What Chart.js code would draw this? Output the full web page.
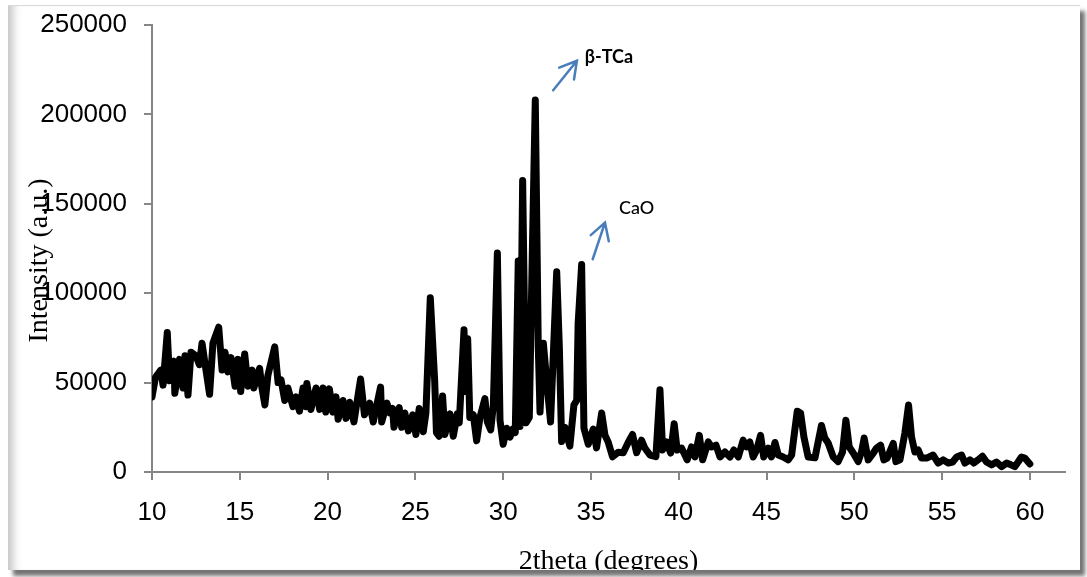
<!DOCTYPE html>
<html>
<head>
<meta charset="utf-8">
<title>XRD pattern</title>
<script src="https://cdn.jsdelivr.net/npm/chart.js@4.4.1/dist/chart.umd.min.js"></script>
<style>
  html, body { margin: 0; padding: 0; background: #fff; }
  #frame {
    position: absolute; left: 8px; top: 5px; width: 1072px; height: 564px;
    overflow: hidden; background: #fff;
    border-top: 1px solid #d9d9d9;
    box-shadow: inset 11px 0 8px -6px #c4c4c4, 5px 6px 4px rgba(70, 70, 70, 0.75);
  }
  #wrap { position: absolute; left: -8px; top: -6px; width: 1087px; height: 577px; }
</style>
</head>
<body>
<div id="frame"><div id="wrap"><canvas id="xrd"></canvas></div></div>
<script>
// 2theta positions (degrees)
const twoTheta = [
  10.0, 10.2, 10.5, 10.63, 10.87, 11.0, 11.25, 11.3, 11.57, 11.76,
  11.88, 12.05, 12.22, 12.5, 12.7, 12.85, 13.0, 13.28, 13.47, 13.65,
  13.8, 13.99, 14.16, 14.33, 14.5, 14.73, 14.9, 15.05, 15.28, 15.47,
  15.7, 15.8, 16.13, 16.26, 16.43, 16.6, 16.99, 17.18, 17.35, 17.56,
  17.74, 18.03, 18.2, 18.4, 18.6, 18.77, 18.82, 19.05, 19.34, 19.55,
  19.74, 19.9, 20.1, 20.3, 20.48, 20.6, 20.88, 21.05, 21.26, 21.5,
  21.88, 22.1, 22.4, 22.6, 23.02, 23.08, 23.38, 23.55, 23.7, 23.78,
  24.08, 24.22, 24.4, 24.6, 24.85, 25.03, 25.22, 25.45, 25.6, 25.85,
  26.1, 26.2, 26.35, 26.55, 26.68, 26.97, 27.16, 27.39, 27.5, 27.77,
  27.88, 27.98, 28.1, 28.3, 28.49, 28.68, 28.96, 29.1, 29.29, 29.44,
  29.67, 29.82, 30.0, 30.2, 30.39, 30.55, 30.69, 30.86, 30.96, 31.11,
  31.3, 31.49, 31.66, 31.83, 32.0, 32.1, 32.29, 32.48, 32.7, 33.05,
  33.2, 33.33, 33.52, 33.8, 34.03, 34.19, 34.27, 34.47, 34.6, 34.85,
  35.13, 35.32, 35.61, 35.8, 35.98, 36.23, 36.55, 36.84, 37.12, 37.37,
  37.6, 37.88, 38.07, 38.36, 38.7, 38.93, 39.08, 39.31, 39.54, 39.74,
  39.91, 40.16, 40.48, 40.73, 40.92, 41.17, 41.36, 41.68, 41.87, 42.12,
  42.35, 42.63, 42.92, 43.14, 43.39, 43.67, 43.86, 44.05, 44.24, 44.44,
  44.66, 44.84, 45.1, 45.28, 45.48, 45.67, 45.95, 46.24, 46.43, 46.56,
  46.75, 46.94, 47.13, 47.37, 47.76, 48.13, 48.32, 48.51, 48.8, 49.08,
  49.33, 49.52, 49.71, 49.94, 50.22, 50.41, 50.56, 50.79, 51.08, 51.27,
  51.5, 51.68, 51.87, 52.06, 52.22, 52.37, 52.6, 52.88, 53.09, 53.26,
  53.45, 53.64, 53.83, 54.12, 54.49, 54.78, 55.06, 55.35, 55.6, 55.83,
  56.11, 56.3, 56.58, 56.81, 57.05, 57.3, 57.53, 57.81, 58.1, 58.39,
  58.67, 58.92, 59.14, 59.33, 59.52, 59.71, 60.0
]

// intensity (a.u.) at each position above
const intensity = [
  42000, 53000, 57000, 48600, 78000, 51000, 62000, 44000, 63000, 47000,
  65000, 43000, 67000, 65000, 60000, 72000, 62000, 43500, 72000, 77000,
  81000, 57000, 67000, 56000, 64000, 48000, 63000, 45000, 66000, 48000,
  57000, 47000, 58000, 47000, 37500, 54000, 70000, 50000, 51500, 40000,
  47000, 36500, 42000, 34000, 47000, 36500, 49500, 35000, 47000, 35000,
  47000, 33500, 46500, 33500, 42000, 29500, 40000, 30000, 39000, 28000,
  52000, 32000, 38500, 28000, 47500, 28000, 38500, 33000, 35500, 25000,
  36000, 25000, 33000, 23000, 32000, 21000, 35500, 22500, 33000, 97500,
  51000, 22000, 20000, 42500, 21000, 32500, 20000, 32500, 27500, 79500,
  45000, 74500, 30500, 32000, 17500, 30500, 41000, 28000, 23500, 37000,
  122500, 29000, 15500, 24500, 19500, 24000, 22000, 118000, 25500, 163000,
  27500, 30500, 122000, 208000, 70000, 33500, 72000, 51000, 28000, 112000,
  70000, 17000, 25000, 14500, 37500, 40000, 83000, 116000, 24500, 15500,
  24000, 13500, 33000, 20500, 16800, 8500, 11000, 10800, 16500, 21000,
  10800, 17800, 13400, 9500, 8600, 46000, 12300, 16800, 10600, 27000,
  12300, 13400, 6800, 14000, 8400, 20500, 6800, 16800, 14000, 15000,
  8400, 11200, 8400, 12300, 8400, 17800, 14000, 16800, 8400, 12300,
  20500, 8400, 13400, 8400, 16500, 9500, 8400, 6800, 9500, 19600,
  34000, 33000, 19600, 8400, 8000, 26000, 19000, 16200, 8400, 5800,
  11200, 29000, 14000, 10600, 5800, 11200, 19000, 6800, 10600, 13400,
  15000, 6800, 7800, 12300, 16000, 5800, 6800, 21800, 37500, 19600,
  11200, 12300, 7800, 7800, 9500, 5000, 6800, 5000, 5600, 8400,
  9500, 5000, 6800, 5000, 6800, 8800, 5600, 4000, 5600, 3000,
  5000, 4000, 3000, 5600, 8400, 7800, 4500
]

const xTicks = [10, 15, 20, 25, 30, 35, 40, 45, 50, 55, 60]
const xTitle = '2theta (degrees)'
const yTitle = 'Intensity (a.u.)'

// peak labels with arrows, in data units
const peakLabels = ['β-TCa', 'CaO']
const labelAt = [[34.65, 232000], [36.6, 147500]]
const arrowFrom = [[32.85, 213500], [35.1, 119000]]
const arrowTo = [[34.2, 230000], [35.8, 139500]]
const labelBold = [true, false]

const points = twoTheta.map((t, i) => ({ x: t, y: intensity[i] }))

const overlay = {
  id: 'overlay',
  afterDraw(chart) {
    const { ctx, chartArea, scales } = chart
    const sx = scales.x, sy = scales.y
    ctx.save()

    // axis titles
    ctx.fillStyle = '#000'
    ctx.font = '28px "Liberation Serif", "Times New Roman", serif'
    ctx.textAlign = 'center'
    ctx.textBaseline = 'alphabetic'
    ctx.fillText(xTitle, (chartArea.left + chartArea.right) / 2, chartArea.bottom + 97)
    ctx.save()
    ctx.translate(47, (chartArea.top + chartArea.bottom) / 2 + 12)
    ctx.rotate(-Math.PI / 2)
    ctx.fillText(yTitle, 0, 0)
    ctx.restore()

    // arrows
    ctx.strokeStyle = '#4a7ebb'
    ctx.lineWidth = 2.5
    ctx.lineCap = 'round'
    arrowFrom.forEach((from, i) => {
      const x0 = sx.getPixelForValue(from[0]), y0 = sy.getPixelForValue(from[1])
      const x1 = sx.getPixelForValue(arrowTo[i][0]), y1 = sy.getPixelForValue(arrowTo[i][1])
      const back = Math.atan2(y0 - y1, x0 - x1)
      ctx.beginPath()
      ctx.moveTo(x0, y0)
      ctx.lineTo(x1, y1)
      ctx.moveTo(x1 + 19 * Math.cos(back + Math.PI / 6), y1 + 19 * Math.sin(back + Math.PI / 6))
      ctx.lineTo(x1, y1)
      ctx.lineTo(x1 + 19 * Math.cos(back - Math.PI / 6), y1 + 19 * Math.sin(back - Math.PI / 6))
      ctx.stroke()
    })

    // labels
    ctx.textAlign = 'left'
    ctx.textBaseline = 'middle'
    ctx.fillStyle = '#000'
    peakLabels.forEach((txt, i) => {
      ctx.font = (labelBold[i] ? 'bold ' : '500 ') + '18px Lato, "Open Sans", sans-serif'
      ctx.fillText(txt, sx.getPixelForValue(labelAt[i][0]), sy.getPixelForValue(labelAt[i][1]))
    })
    ctx.restore()
  }
}

const axisGrey = '#868686'

new Chart(document.getElementById('xrd'), {
  type: 'line',
  data: {
    datasets: [{
      data: points,
      borderColor: '#000',
      borderWidth: 7,
      borderJoinStyle: 'round',
      borderCapStyle: 'round',
      pointRadius: 0,
      fill: false,
      tension: 0
    }]
  },
  options: {
    responsive: true,
    maintainAspectRatio: false,
    animation: false,
    layout: { padding: { top: 25, right: 22, left: 0, bottom: 45 } },
    plugins: {
      legend: { display: false },
      tooltip: { enabled: false }
    },
    scales: {
      x: {
        type: 'linear',
        min: 10,
        max: 62,
        afterBuildTicks: (s) => { s.ticks = xTicks.map(v => ({ value: v })) },
        afterFit: (s) => { s.height = 60 },
        grid: { drawOnChartArea: false, drawTicks: true, tickLength: 8, color: axisGrey, lineWidth: 2 },
        border: { display: true, color: axisGrey, width: 2 },
        ticks: {
          padding: 17,
          color: '#000',
          maxRotation: 0,
          autoSkip: false,
          font: { family: '"Liberation Sans", Arial, sans-serif', size: 26 }
        }
      },
      y: {
        min: 0,
        max: 250000,
        afterFit: (s) => { s.width = 152; s.paddingTop = 0; s.paddingBottom = 0 },
        grid: { drawOnChartArea: false, drawTicks: true, tickLength: 8, color: axisGrey, lineWidth: 2 },
        border: { display: true, color: axisGrey, width: 2 },
        ticks: {
          stepSize: 50000,
          padding: 17,
          color: '#000',
          font: { family: '"Liberation Sans", Arial, sans-serif', size: 26 },
          callback: (v) => String(v)
        }
      }
    }
  },
  plugins: [overlay]
})
</script>
</body>
</html>
